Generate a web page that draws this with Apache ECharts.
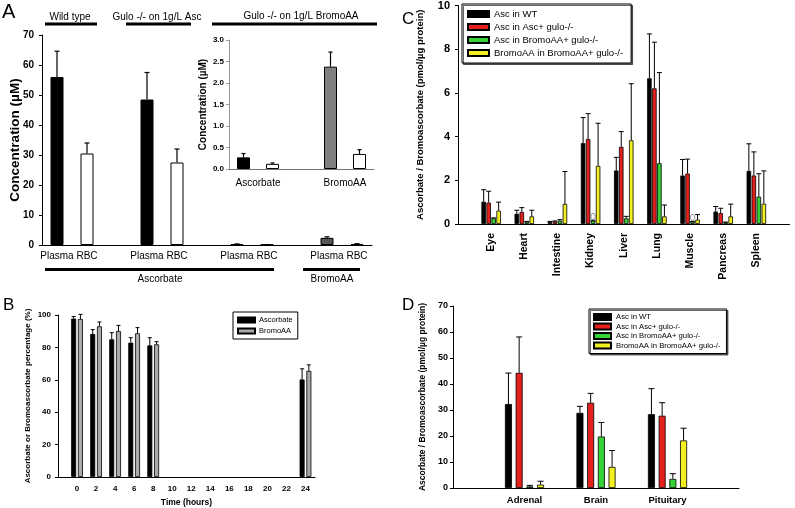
<!DOCTYPE html>
<html><head><meta charset="utf-8">
<script src="https://cdn.jsdelivr.net/npm/echarts@6/dist/echarts.min.js"></script>
<style>html,body{margin:0;padding:0;background:#fff}#c{width:795px;height:508px}</style>
</head><body><div id="c"></div>
<script>
// ---------- Panel A (main) ----------
const aCategories = ['Plasma','RBC','','Plasma','RBC','','Plasma','RBC','','Plasma','RBC'];
const aValues = [56.0, 30.5, null, 48.5, 27.5, null, 0.27, 0.12, null, 2.38, 0.35];
const aErrTop = [64.6, 34.0, null, 57.5, 32.0, null, 0.36, 0.14, null, 2.72, 0.45];
// ---------- Panel A (inset) ----------
const insetGroups = ['Ascorbate', 'BromoAA'];
const insetSlots = ['Plasma','RBC','','Plasma','RBC'];
const insetValues = [0.27, 0.12, null, 2.38, 0.35];
const insetErrTop = [0.36, 0.14, null, 2.72, 0.45];
// ---------- Panel B ----------
const bHours = [0, 2, 4, 6, 8, 24];
const bAsc = [97.8, 88.3, 85.0, 82.9, 81.2, 60.2];
const bAscErr = [99.1, 91.0, 89.1, 86.0, 86.0, 66.8];
const bBromo = [97.5, 93.0, 90.1, 88.7, 81.9, 65.5];
const bBromoErr = [100.4, 95.7, 93.6, 92.2, 83.5, 69.2];
const bAxisHours = []; for (let h = -2; h <= 25; h++) bAxisHours.push(String(h));
// ---------- Panel C ----------
const cCats = ['Eye','Heart','Intestine','Kidney','Liver','Lung','Muscle','Pancreas','Spleen'];
const cWT      = [1.02, 0.47, 0.10, 3.70, 2.45, 6.67, 2.22, 0.57, 2.43];
const cWTErr   = [1.57, 0.63, 0.12, 4.87, 3.05, 8.70, 2.95, 0.80, 3.67];
const cAsc     = [0.98, 0.55, 0.12, 3.89, 3.53, 6.21, 2.31, 0.50, 2.22];
const cAscErr  = [1.50, 0.75, 0.14, 5.05, 4.23, 8.32, 2.97, 0.72, 3.30];
const cBrAsc   = [0.26, 0.10, 0.15, 0.15, 0.26, 2.78, 0.10, 0.08, 1.25];
const cBrAscErr= [0.28, 0.12, 0.20, 0.17, 0.35, 6.93, 0.12, 0.09, 2.30];
const cBromo   = [0.61, 0.35, 0.92, 2.66, 3.83, 0.35, 0.20, 0.35, 0.93];
const cBromoErr= [1.00, 0.63, 2.40, 4.61, 6.42, 0.87, 0.43, 0.91, 2.43];
const cOpenMark= [null, null, null, 0.35, null, null, 0.30, null, null];
// ---------- Panel D ----------
const dCats = ['Adrenal','Brain','Pituitary'];
const dWT      = [32.3, 28.9, 28.4];
const dWTErr   = [44.2, 31.4, 38.2];
const dAsc     = [44.3, 32.8, 27.8];
const dAscErr  = [58.1, 36.4, 32.8];
const dBrAsc   = [0.6, 19.8, 3.5];
const dBrAscErr= [1.0, 25.2, 5.5];
const dBromo   = [1.3, 8.1, 18.3];
const dBromoErr= [2.6, 14.4, 23.0];
const seriesNames = ['Asc in WT','Asc in Asc+ gulo-/-','Asc in BromoAA+ gulo-/-','BromoAA in BromoAA+ gulo-/-'];

// ---------- styles ----------
const FONT = '"Liberation Sans", Arial, Helvetica, sans-serif';
const fourColors = ['#000000', '#e3201b', '#35d335', '#f2f020'];
const aFill = ['#000','#fff',null,'#000','#fff',null,'#000','#fff',null,'#555','#555'];
const insetFill = ['#000','#fff',null,'#808080','#fff'];

function offsets(n, w, gap) { const s = w * (1 + gap); return Array.from({length: n}, (_, i) => (i - (n - 1) / 2) * s); }

function errorBars(name, xi, yi, xs, vals, errs, off, cap, lw) {
  const data = [];
  vals.forEach((v, i) => { if (v != null && errs[i] != null) data.push([xs[i], v, errs[i]]); });
  return {
    type: 'custom', name: name, xAxisIndex: xi, yAxisIndex: yi, z: 5, silent: true, clip: false,
    encode: {x: 0, y: [1, 2]}, data: data,
    renderItem: function (params, api) {
      const p0 = api.coord([api.value(0), api.value(1)]);
      const p1 = api.coord([api.value(0), api.value(2)]);
      const x = p0[0] + off;
      return {type: 'group', children: [
        {type: 'line', shape: {x1: x, y1: p0[1], x2: x, y2: p1[1]}, style: {stroke: '#000', lineWidth: lw}},
        {type: 'line', shape: {x1: x - cap / 2, y1: p1[1], x2: x + cap / 2, y2: p1[1]}, style: {stroke: '#000', lineWidth: lw}}
      ]};
    }
  };
}

const axisBlack = {lineStyle: {color: '#000', width: 1}};
function valueY(grid, min, max, interval, fs, margin, name, nameGap, nameFs, extra) {
  return Object.assign({
    type: 'value', gridIndex: grid, min: min, max: max, interval: interval,
    axisLine: {show: true, lineStyle: {color: '#000', width: 1}},
    axisTick: {show: true, length: 3, lineStyle: {color: '#000'}},
    splitLine: {show: false},
    axisLabel: {fontFamily: FONT, fontSize: fs, fontWeight: 'bold', color: '#000', margin: margin},
    name: name, nameLocation: 'middle', nameGap: nameGap,
    nameTextStyle: {fontFamily: FONT, fontSize: nameFs, fontWeight: 'bold', color: '#000'}
  }, extra || {});
}

const chart = echarts.init(document.getElementById('c'), null, {renderer: 'canvas'});

const cIdx = cCats.map((_, i) => i + 1);
const dIdx = dCats.map((_, i) => i + 1);
const pad = arr => ['-'].concat(arr.map(v => v == null ? '-' : v)).concat(['-']);

const cOff = offsets(4, 4.5, 0.11);
const dOff = offsets(4, 7, 0.53);
const bOff = offsets(2, 5, 0.35);

const cVals = [cWT, cAsc, cBrAsc, cBromo];
const cErrs = [cWTErr, cAscErr, cBrAscErr, cBromoErr];
const dVals = [dWT, dAsc, dBrAsc, dBromo];
const dErrs = [dWTErr, dAscErr, dBrAscErr, dBromoErr];

const series = [];
// A main
series.push({
  type: 'bar', name: 'A main', xAxisIndex: 0, yAxisIndex: 0, barWidth: 13,
  data: aValues.map((v, i) => v == null ? '-' : {value: v, itemStyle: {color: aFill[i], borderColor: '#000', borderWidth: 1}})
});
series.push(errorBars('A main err', 0, 0, aValues.map((_, i) => i), aValues, aErrTop, 0, 5, 1.2));
// A inset
series.push({
  type: 'bar', name: 'A inset', xAxisIndex: 1, yAxisIndex: 1, barWidth: 13,
  data: insetValues.map((v, i) => v == null ? '-' : {value: v, itemStyle: {color: insetFill[i], borderColor: '#000', borderWidth: 1}})
});
series.push(errorBars('A inset err', 1, 1, insetValues.map((_, i) => i), insetValues, insetErrTop, 0, 4, 1.2));
// B
const bX = bHours.map(h => h + 2);
series.push({type: 'bar', name: 'Ascorbate', xAxisIndex: 2, yAxisIndex: 2, barWidth: 5, barGap: '35%',
  itemStyle: {color: '#000', borderColor: '#000', borderWidth: 0.8}, data: bX.map((x, i) => [x, bAsc[i]])});
series.push({type: 'bar', name: 'BromoAA', xAxisIndex: 2, yAxisIndex: 2, barWidth: 5, barGap: '35%',
  itemStyle: {color: '#aaaaaa', borderColor: '#000', borderWidth: 0.8}, data: bX.map((x, i) => [x, bBromo[i]])});
series.push(errorBars('B err1', 2, 2, bX, bAsc, bAscErr, bOff[0], 4, 1));
series.push(errorBars('B err2', 2, 2, bX, bBromo, bBromoErr, bOff[1], 4, 1));
// C
for (let k = 0; k < 4; k++) {
  series.push({type: 'bar', name: seriesNames[k], xAxisIndex: 3, yAxisIndex: 3, barWidth: 4.5, barGap: '11%',
    itemStyle: {color: fourColors[k], borderColor: '#000', borderWidth: 0.8}, data: pad(cVals[k])});
}
for (let k = 0; k < 4; k++) series.push(errorBars('C err' + k, 3, 3, cIdx, cVals[k], cErrs[k], cOff[k], 5, 1));
series.push({
  type: 'custom', name: 'C marks', xAxisIndex: 3, yAxisIndex: 3, silent: true, z: 6,
  data: cOpenMark.map((v, i) => v == null ? null : [i + 1, v]).filter(d => d),
  renderItem: function (params, api) {
    const p = api.coord([api.value(0), api.value(1)]);
    return {type: 'ellipse', shape: {cx: p[0] + cOff[2], cy: p[1], rx: 2.2, ry: 3}, style: {fill: '#fff', stroke: '#666', lineWidth: 0.8}};
  }
});
// D
for (let k = 0; k < 4; k++) {
  series.push({type: 'bar', name: seriesNames[k], xAxisIndex: 4, yAxisIndex: 4, barWidth: 7, barGap: '53%',
    itemStyle: {color: fourColors[k], borderColor: '#000', borderWidth: 0.8}, data: pad(dVals[k])});
}
for (let k = 0; k < 4; k++) series.push(errorBars('D err' + k, 4, 4, dIdx, dVals[k], dErrs[k], dOff[k], 6, 1));

const noTick = {show: false};
const option = {
  animation: false,
  backgroundColor: '#fff',
  textStyle: {fontFamily: FONT},
  grid: [
    {left: 42, top: 35, width: 330, height: 210},
    {left: 229, top: 40, width: 145, height: 129},
    {left: 58, top: 315, width: 257, height: 162},
    {left: 458, top: 5, width: 337, height: 219},
    {left: 453, top: 306, width: 286, height: 182}
  ],
  xAxis: [
    {type: 'category', gridIndex: 0, data: aCategories, axisTick: noTick, axisLine: axisBlack,
      axisLabel: {interval: 0, fontFamily: FONT, fontSize: 10, color: '#000', margin: 6}},
    {type: 'category', gridIndex: 1, data: insetSlots, axisTick: noTick, axisLine: {lineStyle: {color: '#777'}},
      axisLabel: {show: false}},
    {type: 'category', gridIndex: 2, data: bAxisHours, boundaryGap: false, axisTick: noTick, axisLine: axisBlack,
      axisLabel: {interval: 0, fontFamily: FONT, fontSize: 8, fontWeight: 'bold', color: '#000', margin: 8,
        formatter: v => { const h = +v; return (h >= 0 && h <= 24 && h % 2 === 0) ? v : ''; }},
      name: 'Time (hours)', nameLocation: 'middle', nameGap: 21,
      nameTextStyle: {fontFamily: FONT, fontSize: 8.5, fontWeight: 'bold', color: '#000'}},
    {type: 'category', gridIndex: 3, data: [''].concat(cCats).concat([' ']), boundaryGap: false, axisTick: noTick, axisLine: axisBlack,
      axisLabel: {interval: 0, rotate: 90, fontFamily: FONT, fontSize: 10.5, fontWeight: 'bold', color: '#000', margin: 9}},
    {type: 'category', gridIndex: 4, data: [''].concat(dCats).concat([' ']), boundaryGap: false, axisTick: noTick, axisLine: axisBlack,
      axisLabel: {interval: 0, fontFamily: FONT, fontSize: 9.5, fontWeight: 'bold', color: '#000', margin: 7}}
  ],
  yAxis: [
    valueY(0, 0, 70, 10, 10, 8, 'Concentration (µM)', 20, 13.5, {nameMoveOverlap: false}),
    valueY(1, 0, 3, 0.5, 8, 5, 'Concentration (µM)', 21, 10, {
      axisLine: {show: true, lineStyle: {color: '#999'}}, axisTick: {show: true, length: 3, lineStyle: {color: '#999'}},
      axisLabel: {fontFamily: FONT, fontSize: 8, fontWeight: 'bold', color: '#000', margin: 5, formatter: v => v.toFixed(1)}}),
    valueY(2, 0, 100, 20, 8, 7, 'Ascorbate or Bromoascorbate percentage (%)', 26, 8),
    valueY(3, 0, 10, 2, 11, 8, 'Ascorbate / Bromoascorbate (pmol/µg protein)', 33, 9.5),
    valueY(4, 0, 70, 10, 9, 5, 'Ascorbate / Bromoascorbate (pmol/µg protein)', 26, 8.5)
  ],
  legend: [
    {data: ['Ascorbate', 'BromoAA'], orient: 'vertical', left: 233, top: 312, icon: 'rect', itemWidth: 17, itemHeight: 5,
      itemGap: 3, padding: [4, 5, 4, 4], borderColor: '#000', borderWidth: 1, selectedMode: false,
      textStyle: {fontFamily: FONT, fontSize: 7.5, color: '#000', padding: [0, 0, 0, -1]}},
    {data: seriesNames, orient: 'vertical', left: 462, top: 4, icon: 'rect', itemWidth: 21, itemHeight: 6,
      itemGap: 3, padding: [5, 8, 5, 5], borderColor: '#000', borderWidth: 1, selectedMode: false,
      shadowColor: 'rgba(0,0,0,0.6)', shadowOffsetX: 1.5, shadowOffsetY: 1.5, shadowBlur: 0, backgroundColor: '#fff',
      textStyle: {fontFamily: FONT, fontSize: 9.5, color: '#000'}},
    {data: seriesNames, orient: 'vertical', left: 589, top: 309, icon: 'rect', itemWidth: 17, itemHeight: 6,
      itemGap: 1.5, padding: [4, 6, 4, 4], borderColor: '#000', borderWidth: 1, selectedMode: false,
      shadowColor: 'rgba(0,0,0,0.6)', shadowOffsetX: 1.5, shadowOffsetY: 1.5, shadowBlur: 0, backgroundColor: '#fff',
      textStyle: {fontFamily: FONT, fontSize: 7.7, color: '#000'}}
  ],
  series: series
};
chart.setOption(option);

// annotations
const txt = (x, y, text, size, weight, align) => ({type: 'text', x: x, y: y, silent: true,
  style: {text: text, fontFamily: FONT, fontSize: size, fontWeight: weight || 'normal', fill: '#000', align: align || 'center', verticalAlign: 'middle'}});
const bar = (x1, x2, y) => ({type: 'line', silent: true, shape: {x1: x1, y1: y, x2: x2, y2: y}, style: {stroke: '#000', lineWidth: 3}});
const g = [
  txt(2, 12, 'A', 20, 'normal', 'left'),
  txt(3, 305, 'B', 17, 'normal', 'left'),
  txt(402, 19, 'C', 17, 'normal', 'left'),
  txt(402, 305, 'D', 17, 'normal', 'left'),
  txt(70, 17, 'Wild type', 10), bar(45, 97, 24),
  txt(157, 17, 'Gulo -/- on 1g/L Asc', 10), bar(126, 191, 24),
  txt(301, 16, 'Gulo -/- on 1g/L BromoAA', 10), bar(212, 377, 24),
  bar(45, 274, 269.5), txt(160, 279.5, 'Ascorbate', 10),
  bar(303, 360, 269.5), txt(332, 279.5, 'BromoAA', 10)
];
// inset group labels centered under each pair of bars (positions from the inset axis)
insetGroups.forEach((name, gi) => {
  const i0 = gi * 3, i1 = gi * 3 + 1;
  const x0 = chart.convertToPixel({xAxisIndex: 1}, i0);
  const x1 = chart.convertToPixel({xAxisIndex: 1}, i1);
  const y = chart.convertToPixel({yAxisIndex: 1}, 0);
  g.push(txt((x0 + x1) / 2, y + 14, name, 10));
});
chart.setOption({graphic: g});
</script></body></html>
